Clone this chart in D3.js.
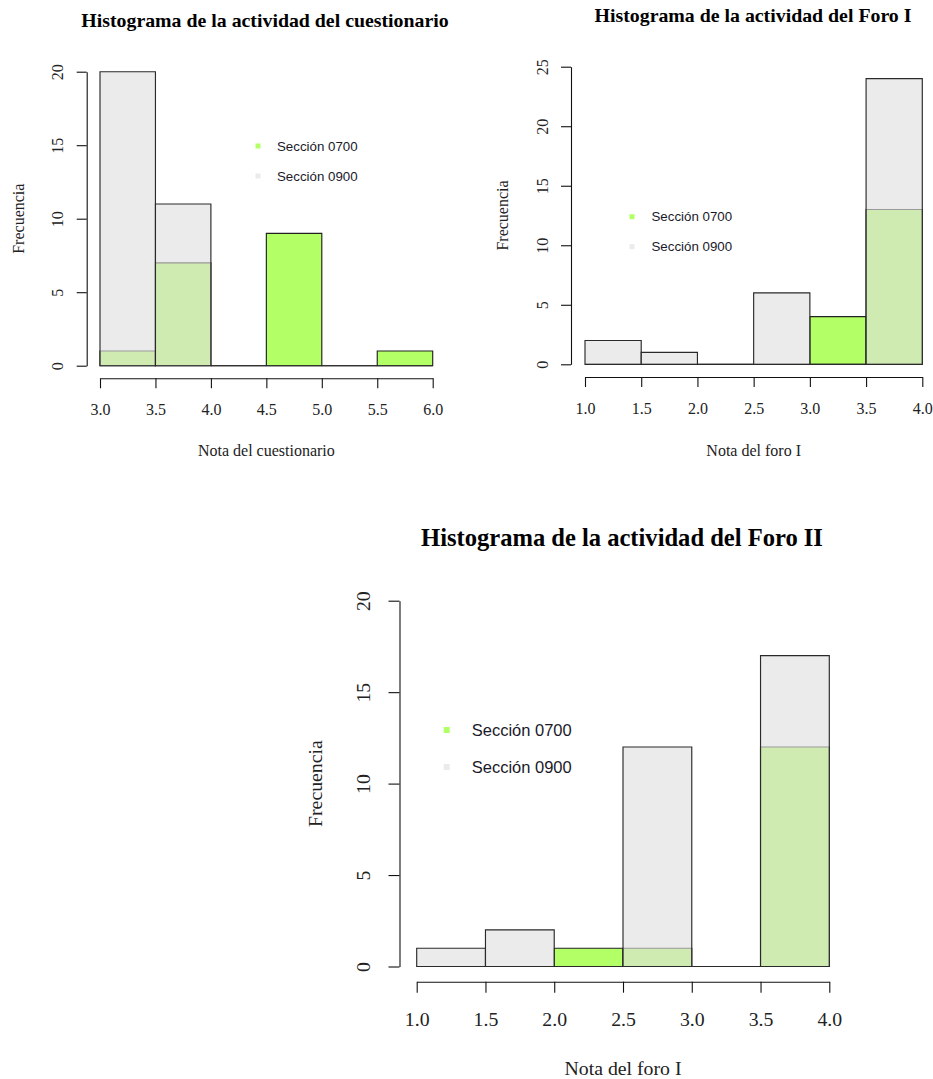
<!DOCTYPE html>
<html>
<head>
<meta charset="utf-8">
<script src="https://cdn.jsdelivr.net/npm/d3@7"></script>
<style>
  body { margin: 0; background: #fff; }
  svg { display: block; }
</style>
</head>
<body>
<div id="chart"></div>
<script>
// data
var legendLabels = ["Sección 0700", "Sección 0900"];

var breaksCuest = [3.0, 3.5, 4.0, 4.5, 5.0, 5.5, 6.0];
var sec0700Cuest = [1, 7, 0, 9, 0, 1];
var sec0900Cuest = [20, 11, 0, 0, 0, 0];
var yTicksCuest = [0, 5, 10, 15, 20];

var breaksForo1 = [1.0, 1.5, 2.0, 2.5, 3.0, 3.5, 4.0];
var sec0700Foro1 = [0, 0, 0, 0, 4, 13];
var sec0900Foro1 = [2, 1, 0, 6, 0, 24];
var yTicksForo1 = [0, 5, 10, 15, 20, 25];

var breaksForo2 = [1.0, 1.5, 2.0, 2.5, 3.0, 3.5, 4.0];
var sec0700Foro2 = [0, 0, 1, 1, 0, 12];
var sec0900Foro2 = [1, 2, 0, 12, 0, 17];
var yTicksForo2 = [0, 5, 10, 15, 20];

var titles = ["Histograma de la actividad del cuestionario",
              "Histograma de la actividad del Foro I",
              "Histograma de la actividad del Foro II"];
var xTitles = ["Nota del cuestionario", "Nota del foro I", "Nota del foro I"];

var width = 933, height = 1079;
var green = "#b3ff66";
var grey = "rgb(223,223,223)";
var serif = "'Liberation Serif', 'Times New Roman', serif";
var sans = "'Liberation Sans', Arial, sans-serif";

var svg = d3.select("#chart").append("svg")
    .attr("width", width)
    .attr("height", height);

// one panel
function histPanel(opt) {
  var x = d3.scaleLinear().domain(d3.extent(opt.breaks)).range(opt.xRange);
  var y = d3.scaleLinear().domain([0, d3.max(opt.yTicks)]).range(opt.yRange);
  var g = svg.append("g");
  var f = opt.font;

  var bins = function(counts) {
    return counts.map(function(c, i) { return {x0: opt.breaks[i], x1: opt.breaks[i + 1], n: c}; });
  };
  // path so that empty bins still show their baseline
  var barPath = function(d) {
    return "M" + x(d.x0) + "," + y(0) + "V" + y(d.n) + "H" + x(d.x1) + "V" + y(0) + "Z";
  };

  // 0700 first, solid
  g.selectAll("path.s7").data(bins(opt.s7)).enter().append("path")
    .attr("class", "s7")
    .attr("d", barPath)
    .attr("fill", green)
    .attr("stroke", "#222")
    .attr("stroke-width", 1.15);

  // 0900 on top, translucent
  g.selectAll("path.s9").data(bins(opt.s9)).enter().append("path")
    .attr("class", "s9")
    .attr("d", barPath)
    .attr("fill", grey)
    .attr("fill-opacity", 0.63)
    .attr("stroke", "#2a2a2a")
    .attr("stroke-width", 1.15);

  // y axis
  var ya = g.append("g")
    .attr("transform", "translate(" + opt.yAxisX + ",0)")
    .call(d3.axisLeft(y).tickValues(opt.yTicks).tickSize(opt.tick).tickSizeOuter(0).tickFormat(d3.format("d")));
  ya.select(".domain").attr("stroke", "#111").attr("stroke-width", 1.1);
  ya.selectAll(".tick line").attr("stroke", "#111").attr("stroke-width", 1.1);
  ya.selectAll(".tick text")
    .attr("x", null).attr("dy", null)
    .attr("transform", function() { return "translate(" + (opt.yLabX - opt.yAxisX) + ",0) rotate(-90)"; })
    .attr("text-anchor", "middle")
    .attr("dy", "0.35em")
    .attr("font-family", serif)
    .attr("font-size", f + "px")
    .attr("fill", "#222");

  // x axis
  var xa = g.append("g")
    .attr("transform", "translate(0," + opt.xAxisY + ")")
    .call(d3.axisBottom(x).tickValues(opt.breaks).tickSize(opt.tick).tickSizeOuter(0).tickFormat(d3.format(".1f")));
  xa.select(".domain").attr("stroke", "#111").attr("stroke-width", 1.1);
  xa.selectAll(".tick line").attr("stroke", "#111").attr("stroke-width", 1.1);
  xa.selectAll(".tick text")
    .attr("y", opt.xLabY - opt.xAxisY)
    .attr("dy", "0.35em")
    .attr("font-family", serif)
    .attr("font-size", f + "px")
    .attr("fill", "#222");

  // titles
  g.append("text")
    .attr("x", opt.titleX).attr("y", opt.titleY).attr("dy", "0.35em")
    .attr("text-anchor", "middle")
    .attr("font-family", serif).attr("font-weight", "bold")
    .attr("font-size", (f * 1.24) + "px")
    .attr("fill", "#000")
    .text(opt.title);

  g.append("text")
    .attr("x", d3.mean(opt.xRange)).attr("y", opt.xTitleY).attr("dy", "0.35em")
    .attr("text-anchor", "middle")
    .attr("font-family", serif).attr("font-size", f + "px")
    .attr("fill", "#222")
    .text(opt.xTitle);

  g.append("text")
    .attr("transform", "translate(" + opt.yTitleX + "," + d3.mean(opt.yRange) + ") rotate(-90)")
    .attr("dy", "0.35em")
    .attr("text-anchor", "middle")
    .attr("font-family", serif).attr("font-size", f + "px")
    .attr("fill", "#222")
    .text("Frecuencia");

  // legend
  var lg = g.selectAll("g.leg").data(legendLabels).enter().append("g")
    .attr("transform", function(d, i) { return "translate(" + opt.legX + "," + (opt.legY + i * opt.legGap) + ")"; });
  lg.append("rect")
    .attr("x", -opt.sq / 2).attr("y", -opt.sq / 2)
    .attr("width", opt.sq).attr("height", opt.sq)
    .attr("fill", function(d, i) { return i === 0 ? green : "#ebebeb"; });
  lg.append("text")
    .attr("x", opt.legTextDx).attr("dy", "0.35em")
    .attr("font-family", sans).attr("font-size", opt.legFont + "px")
    .attr("fill", "#1a1a2a")
    .text(function(d) { return d; });
}

histPanel({
  breaks: breaksCuest, s7: sec0700Cuest, s9: sec0900Cuest, yTicks: yTicksCuest,
  title: titles[0], xTitle: xTitles[0],
  xRange: [100, 432.7], yRange: [365.7, 71.7],
  yAxisX: 86.7, xAxisY: 378.3, tick: 10, font: 16,
  yLabX: 57, xLabY: 409, titleX: 265, titleY: 20, xTitleY: 450, yTitleX: 18,
  legX: 258, legY: 146, legGap: 30, sq: 5, legTextDx: 19, legFont: 13.3
});

histPanel({
  breaks: breaksForo1, s7: sec0700Foro1, s9: sec0900Foro1, yTicks: yTicksForo1,
  title: titles[1], xTitle: xTitles[1],
  xRange: [585, 922.3], yRange: [364.3, 66.7],
  yAxisX: 571, xAxisY: 377, tick: 10, font: 16,
  yLabX: 542, xLabY: 408, titleX: 753, titleY: 15, xTitleY: 450, yTitleX: 502,
  legX: 632, legY: 216.7, legGap: 30, sq: 5, legTextDx: 19.5, legFont: 13.3
});

histPanel({
  breaks: breaksForo2, s7: sec0700Foro2, s9: sec0900Foro2, yTicks: yTicksForo2,
  title: titles[2], xTitle: xTitles[2],
  xRange: [416.7, 829.3], yRange: [966.5, 600.7],
  yAxisX: 399.5, xAxisY: 981.7, tick: 11, font: 19.8,
  yLabX: 363, xLabY: 1019, titleX: 622, titleY: 537, xTitleY: 1068, yTitleX: 315,
  legX: 446.7, legY: 730, legGap: 37, sq: 6, legTextDx: 25, legFont: 16.5
});
</script>
</body>
</html>
